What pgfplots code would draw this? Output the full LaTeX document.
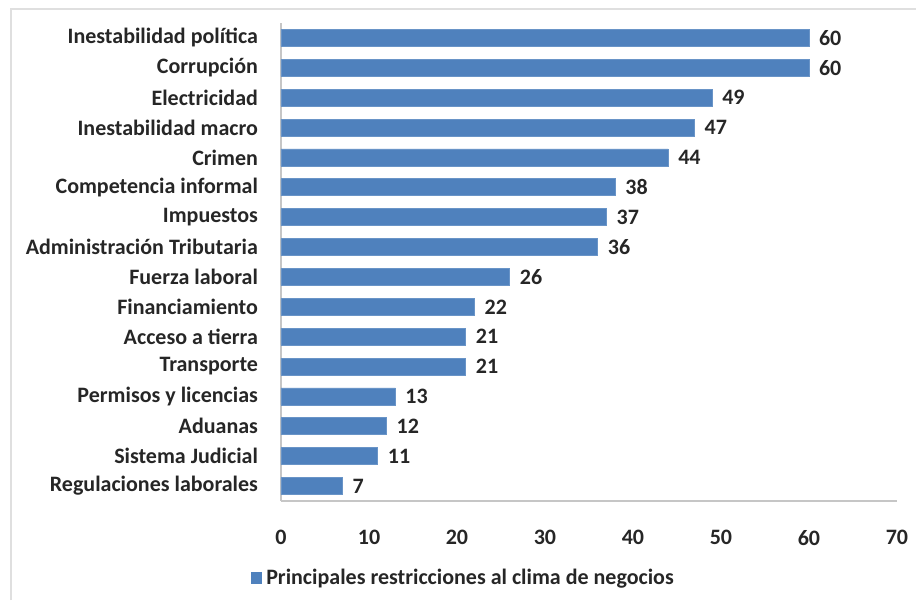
\documentclass[border=0pt]{standalone}
\usepackage{fontspec}
\setmainfont{Carlito}
\usepackage{pgfplots}
\pgfplotsset{compat=1.18}
\definecolor{barblue}{HTML}{4F81BD}
\begin{document}
\begin{tikzpicture}
\path[use as bounding box] (0,0) rectangle (458pt,300pt);
\draw[gray!25, line width=0.8pt] (5.5pt,0) -- (5.5pt,295.5pt) -- (458pt,295.5pt);
\begin{axis}[
  at={(140.5pt,49.5pt)}, anchor=south west,
  scale only axis, width=308pt, height=239pt,
  xbar, bar width=8.5pt,
  xmin=0, xmax=70, xtick={0,10,...,70},
  ymin=-0.5, ymax=15.5,
  ytick={0,...,15},
  yticklabels={Regulaciones laborales, Sistema Judicial, Aduanas, Permisos y licencias, Transporte, Acceso a tierra, Financiamiento, Fuerza laboral, Administración Tributaria, Impuestos, Competencia informal, Crimen, Inestabilidad macro, Electricidad, Corrupción, Inestabilidad política},
  axis x line*=bottom, axis y line*=left,
  axis line style={draw=gray!45, line width=0.6pt},
  major tick length=0pt,
  /pgf/number format/assume math mode=true,
  ticklabel style={font=\bfseries\fontsize{11}{13}\selectfont, text=black!85},
  xticklabel style={yshift=-11pt},
  yticklabel style={xshift=-8pt},
  nodes near coords,
  nodes near coords style={font=\bfseries\fontsize{11}{13}\selectfont, text=black!85, anchor=west, xshift=1.5pt},
  legend style={at={(-0.059,-0.161)}, anchor=west, draw=none, fill=none, font=\bfseries\fontsize{11}{13}\selectfont, text=black!85},
  legend image code/.code={\fill[barblue] (0pt,-2.6pt) rectangle (5.2pt,2.6pt);},
]
\addplot[fill=barblue, draw=barblue!85!white] coordinates {(7,0) (11,1) (12,2) (13,3) (21,4) (21,5) (22,6) (26,7) (36,8) (37,9) (38,10) (44,11) (47,12) (49,13) (60,14) (60,15)};
\legend{Principales restricciones al clima de negocios}
\end{axis}
\end{tikzpicture}
\end{document}
